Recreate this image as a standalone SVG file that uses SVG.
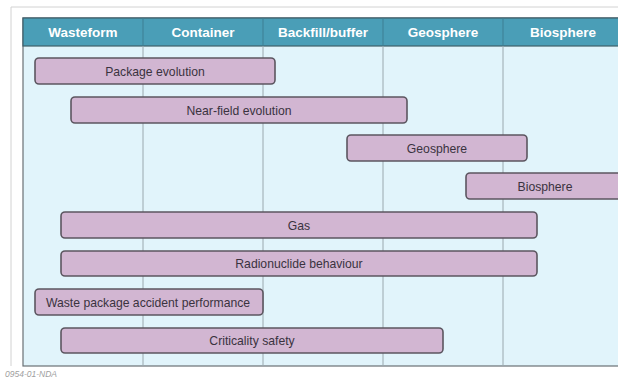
<svg xmlns="http://www.w3.org/2000/svg" width="618" height="379" viewBox="0 0 618 379">
<style>
.hdr{font-family:"Liberation Sans",Arial,sans-serif;font-weight:bold;font-size:13.5px;fill:#ffffff;text-anchor:middle}
.bar rect{fill:#d2b6d2;stroke:#5c5660;stroke-width:1.6}
.bar text{font-family:"Liberation Sans",Arial,sans-serif;font-size:12.2px;fill:#3a3340;text-anchor:middle}
.div{stroke:#9aa8ae;stroke-width:1}
.hdiv{stroke:#3d7f93;stroke-width:1}
</style>
<rect width="618" height="379" fill="#ffffff"/>
<path d="M11 366 V7 H618" fill="none" stroke="#d2d2d2" stroke-width="1"/>
<g id="table">
<rect x="23" y="18" width="600" height="348" fill="#e1f4fb" stroke="#6a7075" stroke-width="1.2"/>
<rect x="23" y="18" width="600" height="28" fill="#4a9eb7" stroke="#3e5f6a" stroke-width="1.2"/>
<g id="dividers">
<line class="div" x1="143" y1="46" x2="143" y2="366"/>
<line class="div" x1="263" y1="46" x2="263" y2="366"/>
<line class="div" x1="383" y1="46" x2="383" y2="366"/>
<line class="div" x1="503" y1="46" x2="503" y2="366"/>
<line class="hdiv" x1="143" y1="18" x2="143" y2="46"/>
<line class="hdiv" x1="263" y1="18" x2="263" y2="46"/>
<line class="hdiv" x1="383" y1="18" x2="383" y2="46"/>
<line class="hdiv" x1="503" y1="18" x2="503" y2="46"/>
</g>
<text class="hdr" x="83" y="37">Wasteform</text>
<text class="hdr" x="203" y="37">Container</text>
<text class="hdr" x="323" y="37">Backfill/buffer</text>
<text class="hdr" x="443" y="37">Geosphere</text>
<text class="hdr" x="563" y="37">Biosphere</text>
</g>
<g id="package-evolution" class="bar"><rect x="35" y="58" width="240" height="26" rx="4"/><text x="155" y="75.5">Package evolution</text></g>
<g id="near-field-evolution" class="bar"><rect x="71" y="97" width="336" height="26" rx="4"/><text x="239" y="114.5">Near-field evolution</text></g>
<g id="geosphere" class="bar"><rect x="347" y="135" width="180" height="26" rx="4"/><text x="437" y="152.5">Geosphere</text></g>
<g id="biosphere" class="bar"><rect x="466" y="173" width="170" height="26" rx="4"/><text x="545" y="190.5">Biosphere</text></g>
<g id="gas" class="bar"><rect x="61" y="212" width="476" height="26" rx="4"/><text x="299" y="229.5">Gas</text></g>
<g id="radionuclide-behaviour" class="bar"><rect x="61" y="251" width="476" height="25" rx="4"/><text x="299" y="268">Radionuclide behaviour</text></g>
<g id="waste-package-accident-performance" class="bar"><rect x="35" y="289" width="228" height="26" rx="4"/><text x="148" y="306.5">Waste package accident performance</text></g>
<g id="criticality-safety" class="bar"><rect x="61" y="328" width="382" height="25" rx="4"/><text x="252" y="345">Criticality safety</text></g>
<text x="5" y="377" font-family="'Liberation Sans',Arial,sans-serif" font-style="italic" font-size="8.5" fill="#a0a0a0">0954-01-NDA</text>
</svg>
